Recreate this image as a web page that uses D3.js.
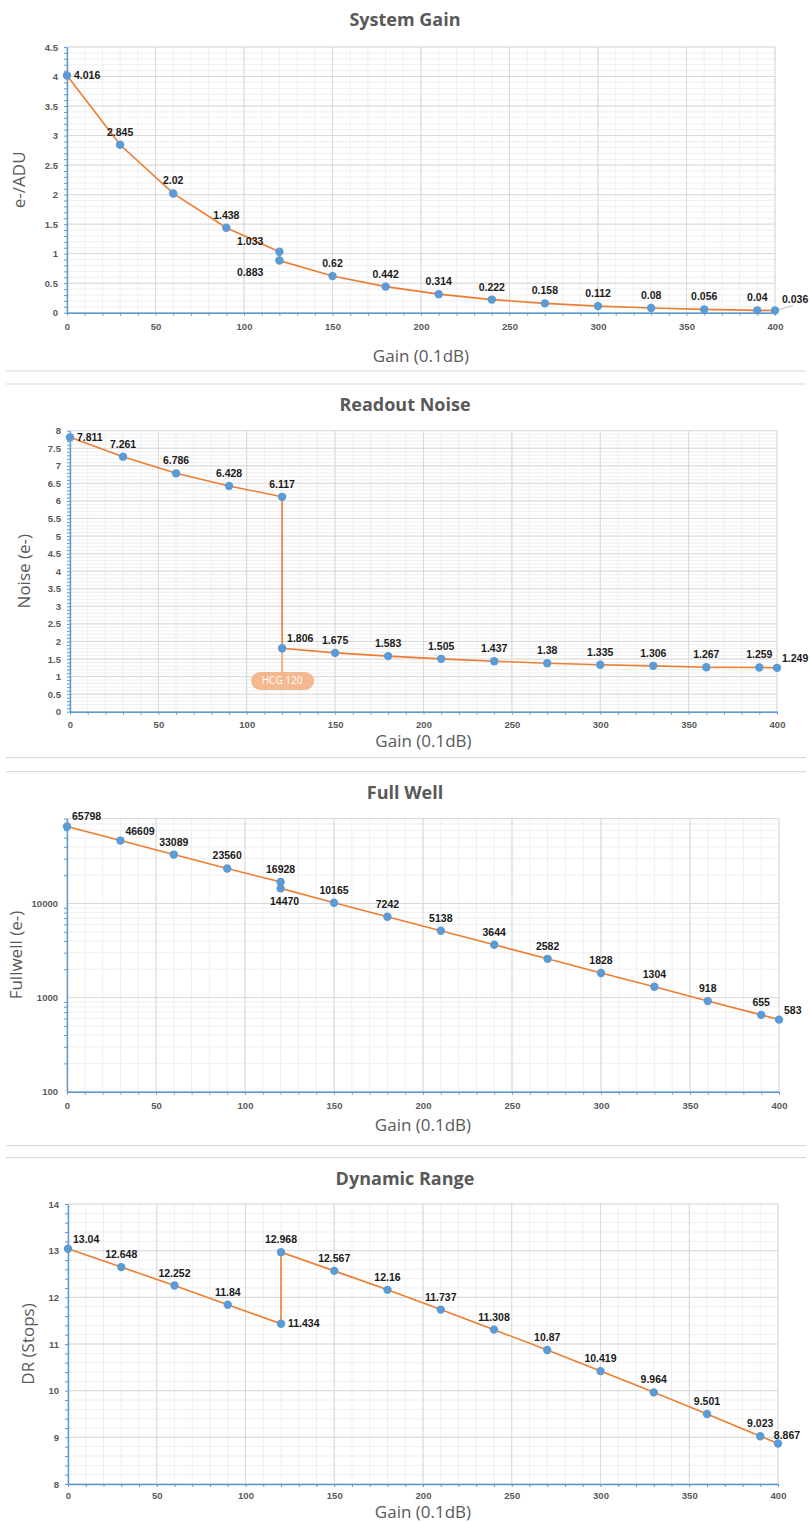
<!DOCTYPE html>
<html>
<head>
<meta charset="utf-8">
<script src="https://cdn.jsdelivr.net/npm/d3@7"></script>
<style>
  body { margin: 0; background: #fff; }
  svg text { font-family: "Liberation Sans", Arial, sans-serif; }
  .title { font-family: "Open Sans", sans-serif; font-weight: 700; font-size: 18px; fill: #595959; }
  .axtitle { font-family: "Open Sans", sans-serif; font-size: 17px; fill: #595959; }
  .ticks text { font-weight: 700; font-size: 9.5px; fill: #595959; }
  .lbl { font-weight: 700; font-size: 10.5px; fill: #1a1a1a; }
</style>
</head>
<body>
<svg id="c" width="810" height="1522"></svg>
<script>
// gain steps (0.1dB), two readings at 120 where HCG switches on
const gain = [0, 30, 60, 90, 120, 120, 150, 180, 210, 240, 270, 300, 330, 360, 390, 400]
const systemGain = [4.016, 2.845, 2.02, 1.438, 1.033, 0.883, 0.62, 0.442, 0.314, 0.222, 0.158, 0.112, 0.08, 0.056, 0.04, 0.036]
const readNoise = [7.811, 7.261, 6.786, 6.428, 6.117, 1.806, 1.675, 1.583, 1.505, 1.437, 1.38, 1.335, 1.306, 1.267, 1.259, 1.249]
const fullWell = [65798, 46609, 33089, 23560, 16928, 14470, 10165, 7242, 5138, 3644, 2582, 1828, 1304, 918, 655, 583]
const dynRange = [13.04, 12.648, 12.252, 11.84, 11.434, 12.968, 12.567, 12.16, 11.737, 11.308, 10.87, 10.419, 9.964, 9.501, 9.023, 8.867]

const xTicks = [0, 50, 100, 150, 200, 250, 300, 350, 400]
const gainTicks = [0, 0.5, 1, 1.5, 2, 2.5, 3, 3.5, 4, 4.5]
const noiseTicks = [0, 0.5, 1, 1.5, 2, 2.5, 3, 3.5, 4, 4.5, 5, 5.5, 6, 6.5, 7, 7.5, 8]
const wellTicks = [100, 1000, 10000]
const drTicks = [8, 9, 10, 11, 12, 13, 14]
const hcgGain = 120
const hcgText = 'HCG 120'

const blue = '#5b9bd5'
const orange = '#ed7d31'
const svg = d3.select('#c')

const charts = [
  { title: 'System Gain', yTitle: 'e-/ADU', values: systemGain, ticks: gainTicks, domain: [0, 4.5], step: 0.1,
    left: 67, right: 775, top: 47, bottom: 312.7, titleY: 21, gainY: 357, yTitleX: 20, pad: 10.5,
    place: ['r', 'a', 'a', 'a', 'la', 'lb', 'a', 'a', 'a', 'a', 'a', 'a', 'a', 'a', 'a', 'lead'] },
  { title: 'Readout Noise', yTitle: 'Noise (e-)', values: readNoise, ticks: noiseTicks, domain: [0, 8], step: 0.1,
    left: 70, right: 777, top: 430.7, bottom: 711.7, titleY: 406, gainY: 742, yTitleX: 25, pad: 10, note: true,
    place: ['r', 'a', 'a', 'a', 'a', 'ra', 'a', 'a', 'a', 'a', 'a', 'a', 'a', 'a', 'a', 'ra'] },
  { title: 'Full Well', yTitle: 'Fullwell (e-)', values: fullWell, ticks: wellTicks, domain: [100, 80000], log: true,
    left: 67, right: 779, top: 818.5, bottom: 1091.7, titleY: 794, gainY: 1126.5, yTitleX: 17, pad: 10.5,
    place: ['ra', 'ra', 'a', 'a', 'a', 'b', 'a', 'a', 'a', 'a', 'a', 'a', 'a', 'a', 'a', 'ra'] },
  { title: 'Dynamic Range', yTitle: 'DR (Stops)', values: dynRange, ticks: drTicks, domain: [8, 14], step: 0.2,
    left: 68, right: 778, top: 1204, bottom: 1484, titleY: 1180, gainY: 1513, yTitleX: 29, pad: 8.5,
    place: ['ra', 'a', 'a', 'a', 'r', 'a', 'a', 'a', 'a', 'a', 'a', 'a', 'a', 'a', 'a', 'ar'] }
]

const separators = [[371, 384], [757.7, 771.7], [1145.7, 1157.7]]

function labelPos (p, px, py) {
  switch (p) {
    case 'a': return [px, py - 9, 'middle']
    case 'b': return [px + 4, py + 17, 'middle']
    case 'r': return [px + 7, py + 3.5, 'start']
    case 'ra': return [px + 5, py - 6, 'start']
    case 'la': return [px - 16, py - 7, 'end']
    case 'lb': return [px - 16, py + 15, 'end']
    case 'lead': return [px + 7, py - 8, 'start']
    case 'ar': return [px + 9, py - 5, 'middle']
  }
}

function minorValues (c) {
  if (c.log) {
    let out = []
    ;[100, 1000, 10000].forEach((d) => d3.range(2, 10).forEach((k) => { if (k * d <= c.domain[1]) out.push(k * d) }))
    return out
  }
  let n0 = Math.round(c.domain[0] / c.step)
  let n1 = Math.round(c.domain[1] / c.step)
  return d3.range(n0, n1 + 1).map((i) => +(i * c.step).toFixed(4))
}

function drawChart (c) {
  let g = svg.append('g')
  let x = d3.scaleLinear().domain([0, 400]).range([c.left, c.right])
  let y = (c.log ? d3.scaleLog() : d3.scaleLinear()).domain(c.domain).range([c.bottom, c.top])
  let minor = minorValues(c)
  let majorY = c.log ? wellTicks.concat([c.domain[1]]) : c.ticks

  // gridlines
  g.append('g').selectAll('line').data(d3.range(0, 401, 10)).join('line')
    .attr('x1', x).attr('x2', x).attr('y1', c.top).attr('y2', c.bottom)
    .attr('stroke', '#efefef')
  g.append('g').selectAll('line').data(minor).join('line')
    .attr('x1', c.left).attr('x2', c.right).attr('y1', y).attr('y2', y)
    .attr('stroke', '#efefef')
  g.append('g').selectAll('line').data(xTicks).join('line')
    .attr('x1', x).attr('x2', x).attr('y1', c.top).attr('y2', c.bottom)
    .attr('stroke', '#d9d9d9')
  g.append('g').selectAll('line').data(majorY).join('line')
    .attr('x1', c.left).attr('x2', c.right).attr('y1', y).attr('y2', y)
    .attr('stroke', '#d9d9d9')

  // axes
  let xm = g.append('g').attr('transform', `translate(0,${c.bottom})`)
    .call(d3.axisBottom(x).tickValues(d3.range(0, 401, 10)).tickSize(3).tickFormat('').tickSizeOuter(0))
  let xl = g.append('g').attr('class', 'ticks').attr('transform', `translate(0,${c.bottom})`)
    .call(d3.axisBottom(x).tickValues(xTicks).tickSize(0).tickPadding(c.pad).tickFormat((d) => String(d)))
  let ym = g.append('g').attr('transform', `translate(${c.left},0)`)
    .call(d3.axisLeft(y).tickValues(minor).tickSize(3).tickFormat('').tickSizeOuter(0))
  let yl = g.append('g').attr('class', 'ticks').attr('transform', `translate(${c.left},0)`)
    .call(d3.axisLeft(y).tickValues(c.ticks).tickSize(0).tickPadding(9).tickFormat((d) => String(d)))
  ;[xm, xl, ym, yl].forEach((a) => {
    a.select('.domain').attr('stroke', blue).attr('stroke-width', 1.4)
    a.selectAll('.tick line').attr('stroke', blue)
  })
  xl.select('.domain').remove()
  yl.select('.domain').remove()

  // titles
  g.append('text').attr('class', 'title').attr('x', 405).attr('y', c.titleY)
    .attr('text-anchor', 'middle').attr('dominant-baseline', 'middle').text(c.title)
  g.append('text').attr('class', 'axtitle').attr('x', (c.left + c.right) / 2).attr('y', c.gainY)
    .attr('text-anchor', 'middle').attr('dominant-baseline', 'middle').text('Gain (0.1dB)')
  g.append('text').attr('class', 'axtitle')
    .attr('transform', `translate(${c.yTitleX},${(c.top + c.bottom) / 2}) rotate(-90)`)
    .attr('text-anchor', 'middle').attr('dominant-baseline', 'middle').text(c.yTitle)

  let pts = gain.map((d, i) => [d, c.values[i]])

  if (c.note) {
    let px = x(hcgGain)
    let py = y(pts.find((p) => p[0] === hcgGain && p[1] < 3)[1])
    g.append('line').attr('x1', px).attr('x2', px).attr('y1', py).attr('y2', 673)
      .attr('stroke', '#f4b183').attr('stroke-width', 2)
    g.append('rect').attr('x', px - 31).attr('y', 672).attr('width', 63).attr('height', 18).attr('rx', 9)
      .attr('fill', '#f4b183').attr('opacity', 0.9)
    g.append('text').attr('x', px).attr('y', 681.5).attr('text-anchor', 'middle').attr('dominant-baseline', 'middle')
      .style('font-family', '"Open Sans", sans-serif').style('font-size', '10px').attr('fill', '#fff').text(hcgText)
  }

  g.append('path').datum(pts)
    .attr('d', d3.line().x((d) => x(d[0])).y((d) => y(d[1])))
    .attr('fill', 'none').attr('stroke', orange).attr('stroke-width', 1.6)

  g.append('g').selectAll('circle').data(pts).join('circle')
    .attr('cx', (d) => x(d[0])).attr('cy', (d) => y(d[1])).attr('r', 4.2)
    .attr('fill', blue)

  pts.forEach((d, i) => {
    let px = x(d[0])
    let py = y(d[1])
    let p = labelPos(c.place[i], px, py)
    if (c.place[i] === 'lead') {
      g.append('line').attr('x1', px + 4).attr('y1', py - 1).attr('x2', px + 18).attr('y2', py - 5)
        .attr('stroke', '#a6a6a6').attr('stroke-width', 0.8)
    }
    g.append('text').attr('class', 'lbl').attr('x', p[0]).attr('y', p[1])
      .attr('text-anchor', p[2]).text(d[1])
  })
}

charts.forEach(drawChart)

separators.forEach((s) => {
  svg.append('g').selectAll('line').data(s).join('line')
    .attr('x1', 6).attr('x2', 806).attr('y1', (d) => d).attr('y2', (d) => d)
    .attr('stroke', '#d9d9d9').attr('stroke-width', 1.2)
})
</script>
</body>
</html>
